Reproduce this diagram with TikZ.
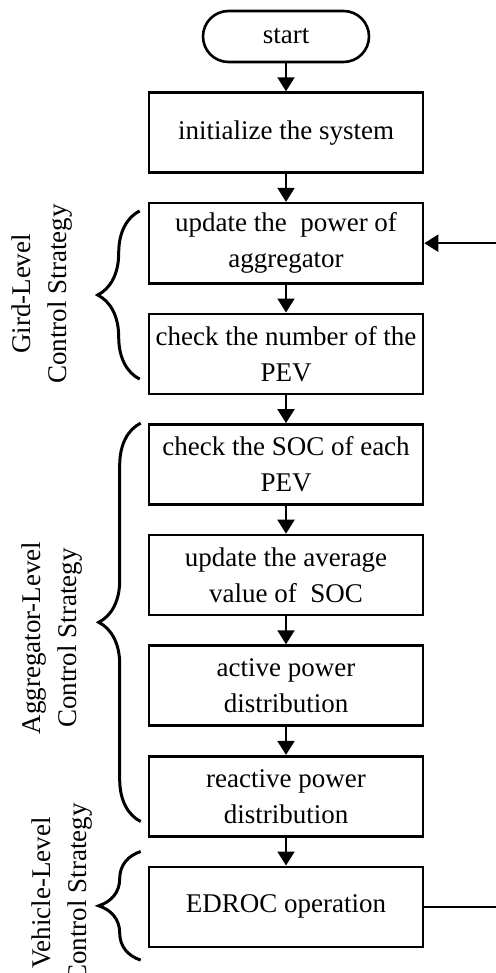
\documentclass[tikz,border=0pt]{standalone}
\usepackage{fontspec}
\setmainfont{Liberation Serif}
\usetikzlibrary{arrows.meta, positioning, calc, decorations.pathreplacing}
\newcommand{\flowfont}{\fontsize{13.5}{18}\selectfont}
\tikzset{
  stepbox/.style={draw, line width=1.3pt, minimum width=137pt, minimum height=40pt,
                  align=center, inner sep=2pt, font=\flowfont},
  termbox/.style={draw, line width=1.3pt, rounded corners=12.75pt, minimum width=83pt,
                  minimum height=25.5pt, inner sep=2pt, font=\flowfont},
  arr/.style={-{Triangle[length=7pt,width=8.5pt]}, line width=1pt},
  lvlbrace/.style={decorate, decoration={brace, amplitude=21pt}, line width=1.5pt},
  lvllabel/.style={rotate=90, align=center, font=\flowfont},
}

\begin{document}
\begin{tikzpicture}[x=0.5pt, y=-0.5pt, node distance=14pt]
  \useasboundingbox (0,0) rectangle (496,973);
  \coordinate (rim) at (496,0);

  \node[termbox] (start) at (286,36.5) {start};
  \node[stepbox, below=of start] (b1) {initialize the system};
  \node[stepbox, below=of b1] (b2) {update the\ \ power of\\aggregator};
  \node[stepbox, below=of b2] (b3) {check the number of the\\PEV};
  \node[stepbox, below=of b3] (b4) {check the SOC of each\\PEV};
  \node[stepbox, below=of b4] (b5) {update the average\\value of\ \ SOC};
  \node[stepbox, below=of b5] (b6) {active power\\distribution};
  \node[stepbox, below=of b6] (b7) {reactive power\\distribution};
  \node[stepbox, below=of b7] (b8) {EDROC operation};

  \foreach \a/\b in {start/b1, b1/b2, b2/b3, b3/b4, b4/b5, b5/b6, b6/b7, b7/b8}
    \draw[arr] (\a) -- (\b);

  \draw[arr] (b2.east -| rim) -- (b2.east);
  \draw[line width=1pt] (b8.east) -- (b8.east -| rim);

  \draw[lvlbrace] ($(b3.south west)+(-8,-16)$) -- ($(b2.north west)+(-8,9)$);
  \draw[lvlbrace] ($(b7.south west)+(-7,-16)$) -- ($(b4.north west)+(-7,0)$);
  \draw[lvlbrace] ($(b8.south west)+(-7,12)$) -- ($(b8.north west)+(-7,-14)$);

  \node[lvllabel] (gird) at (42,294) {Gird-Level\\Control Strategy};
  \node[lvllabel] (aggr) at (52,638) {Aggregator-Level\\Control Strategy};
  \node[lvllabel] (vehi) at (62,893) {Vehicle-Level\\Control Strategy};
\end{tikzpicture}
\end{document}
